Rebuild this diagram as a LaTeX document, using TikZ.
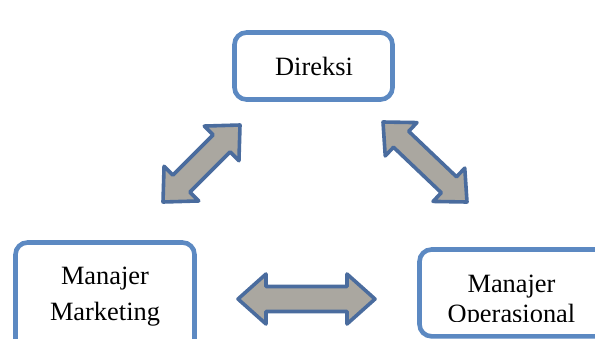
\documentclass[tikz,border=0pt]{standalone}
\usepackage{fontspec}
\setmainfont{Liberation Serif}
\usetikzlibrary{calc}
\definecolor{boxblue}{RGB}{92,137,194}
\definecolor{arrowblue}{RGB}{74,108,158}
\definecolor{arrowgray}{RGB}{170,167,160}
\tikzset{
  orgbox/.style={draw=boxblue, line width=4.6bp, rounded corners=12bp, fill=white},
  orgtext/.style={font=\fontsize{26.5}{36}\selectfont, align=center, anchor=base, inner sep=0pt},
  blockarrow/.style={draw=arrowblue, fill=arrowgray, line width=3.6bp, line join=round}
}
% #1,#2: tip coordinates, #3 head length, #4 head half width, #5 shaft half width
\newcommand\dblblockarrow[5]{%
  \coordinate (#1-#2-a) at ($(#1)!#3!(#2)$);
  \coordinate (#1-#2-b) at ($(#2)!#3!(#1)$);
  \draw[blockarrow] (#1)
    -- ($(#1-#2-a)!#4!90:(#2)$)
    -- ($(#1-#2-a)!#5!90:(#2)$)
    -- ($(#1-#2-b)!#5!-90:(#1)$)
    -- ($(#1-#2-b)!#4!-90:(#1)$)
    -- (#2)
    -- ($(#1-#2-b)!#4!90:(#1)$)
    -- ($(#1-#2-b)!#5!90:(#1)$)
    -- ($(#1-#2-a)!#5!-90:(#2)$)
    -- ($(#1-#2-a)!#4!-90:(#2)$)
    -- cycle;
}
\begin{document}
\begin{tikzpicture}[x=1bp, y=-1bp]
  \useasboundingbox (0,0) rectangle (595,338);
  \clip (0,0) rectangle (595,338);
  \fill[white] (0,0) rectangle (595,338);

  % boxes
  \draw[orgbox] (234.5,32.5) rectangle (392.5,99.5);
  \node[orgtext] (direksi) at (314,75) {Direksi};

  \draw[orgbox] (15.5,242.5) rectangle (194.5,370);
  \node[orgtext] (marketing) at (105,320) {Manajer\\Marketing};

  \draw[orgbox] (419.5,249.5) rectangle (640,336.3);
  \begin{scope}
    \clip (419,249) rectangle (600,321);
    \node[orgtext, font=\fontsize{26.5}{30}\selectfont] (operasional) at (511.5,322) {Manajer\\Operasional};
  \end{scope}

  % arrow tips
  \coordinate (l1) at (163,202);
  \coordinate (l2) at (240,125);
  \coordinate (r1) at (383,122);
  \coordinate (r2) at (467,202);
  \coordinate (h1) at (238,299);
  \coordinate (h2) at (375,299);

  \dblblockarrow{l1}{l2}{26bp}{24.5bp}{12bp}
  \dblblockarrow{r1}{r2}{25bp}{23bp}{11bp}
  \dblblockarrow{h1}{h2}{28bp}{25bp}{12.5bp}
\end{tikzpicture}
\end{document}
